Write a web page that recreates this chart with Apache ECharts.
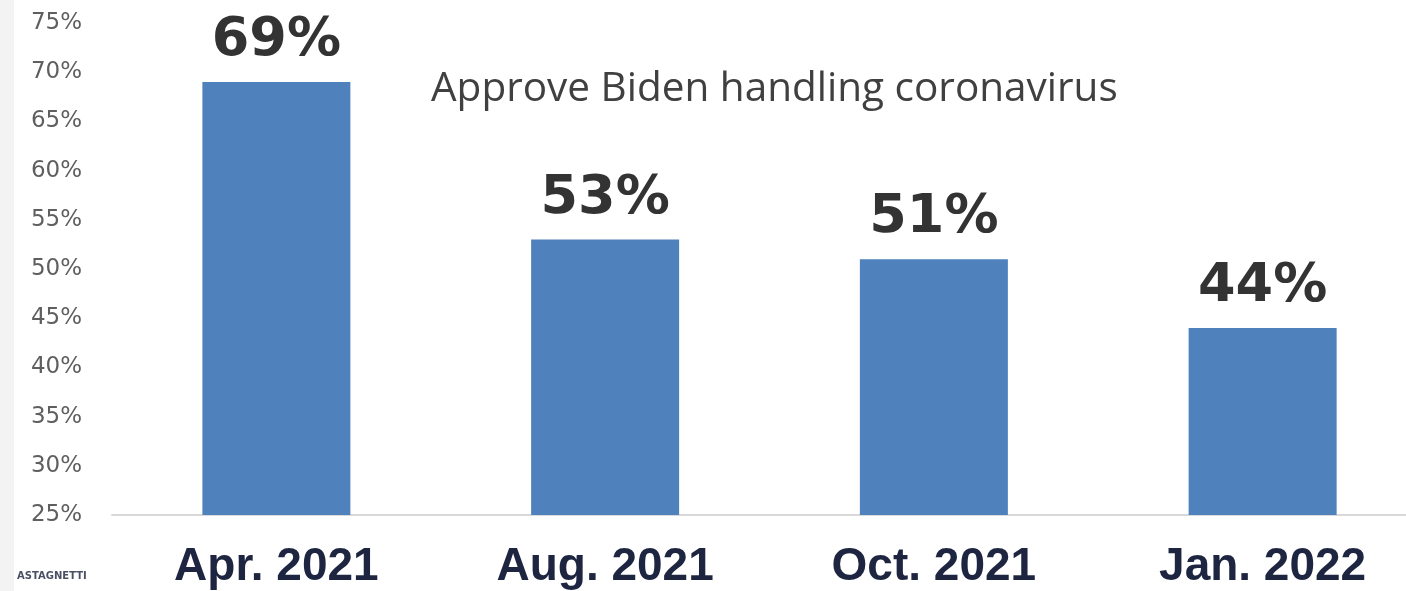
<!DOCTYPE html>
<html>
<head>
<meta charset="utf-8">
<script src="https://cdn.jsdelivr.net/npm/echarts@6/dist/echarts.min.js"></script>
<style>
html,body{margin:0;padding:0;background:#fff;}
#c{width:1406px;height:591px;}
</style>
</head>
<body>
<div id="c"></div>
<script>
const categories = ['Apr. 2021', 'Aug. 2021', 'Oct. 2021', 'Jan. 2022'];
const approveValues = [69, 53, 51, 44];
const yMin = 25, yMax = 75, yStep = 5;
const chartTitle = 'Approve Biden handling coronavirus';
const logoText = 'ASTAGNETTI';

const chart = echarts.init(document.getElementById('c'), null, {renderer: 'canvas'});
chart.setOption({
  backgroundColor: '#ffffff',
  animation: false,
  title: {
    text: chartTitle,
    left: 426,
    top: 64,
    textStyle: {fontFamily: 'Open Sans', fontWeight: 'normal', fontSize: 40.5, color: '#404040'}
  },
  graphic: [
    {type: 'rect', left: 0, top: 0, shape: {width: 14, height: 591}, style: {fill: '#f3f3f3'}},
    {type: 'text', left: 17, top: 571, style: {text: logoText, font: 'bold 10px "DejaVu Sans"', fill: '#4a4f66'}}
  ],
  grid: {left: 112, top: 23, width: 1315, height: 492, containLabel: false, outerBoundsMode: 'none'},
  xAxis: {
    type: 'category',
    data: categories,
    axisLine: {lineStyle: {color: '#d9d9d9', width: 2}},
    axisTick: {show: false},
    axisLabel: {
      margin: 29,
      fontFamily: 'Liberation Sans',
      fontWeight: 'bold',
      fontSize: 46,
      color: '#1d2540'
    }
  },
  yAxis: {
    type: 'value',
    min: yMin,
    max: yMax,
    interval: yStep,
    splitLine: {show: false},
    axisLine: {show: false},
    axisTick: {show: false},
    axisLabel: {
      margin: 30,
      fontFamily: 'DejaVu Sans',
      fontSize: 23,
      color: '#5f5f5f',
      formatter: v => v + '%'
    }
  },
  series: [{
    type: 'bar',
    data: approveValues,
    barWidth: 148,
    itemStyle: {color: '#4f81bd'},
    label: {
      show: true,
      position: 'top',
      distance: 14,
      formatter: p => p.value + '%',
      fontFamily: 'DejaVu Sans',
      fontWeight: 'bold',
      fontSize: 54,
      color: '#333333'
    }
  }]
});
</script>
</body>
</html>
